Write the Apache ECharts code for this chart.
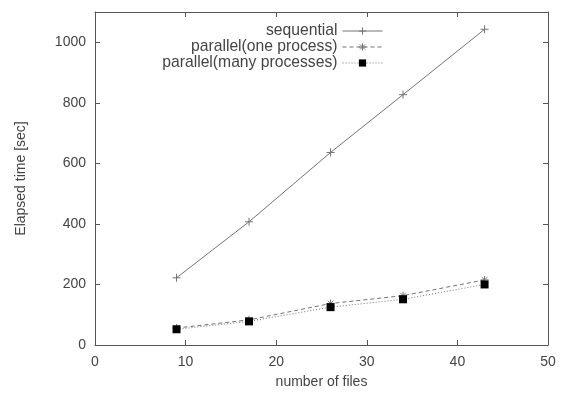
<!DOCTYPE html>
<html lang="en">
<head>
    <meta charset="UTF-8">
    <title>Elapsed time</title>
    <script src="https://cdn.jsdelivr.net/npm/echarts@6/dist/echarts.min.js"></script>
    <style>
        html, body { margin: 0; padding: 0; background: #fff; }
    </style>
</head>
<body>
    <div id="pic1" style="width:562px;height:394px;"></div>
    <script>
        // data
        var files = [9, 17, 26, 34, 43];
        var sequential = [222, 407, 636, 827, 1043];
        var parallelOne = [56, 83, 137, 163, 215];
        var parallelMany = [52, 78, 125, 151, 200];

        function pairs(ys) {
            var out = [];
            for (var i = 0; i < files.length; i++) {
                out.push([files[i], ys[i]]);
            }
            return out;
        }

        var plus = 'path://M5,0L5,10M0,5L10,5';
        var star = 'path://M5,0L5,10M0,5L10,5M1.5,1.5L8.5,8.5M8.5,1.5L1.5,8.5';
        var font = 'Liberation Sans, Helvetica, Arial, sans-serif';
        var lineCol = '#737373';
        var boxCol = '#555';
        var textCol = '#444';
        var hollow = { color: 'transparent', borderColor: lineCol, borderWidth: 1 };

        // shared style of the four box sides
        function side(extra) {
            var a = {
                type: 'value',
                axisLine: { show: true, onZero: false, lineStyle: { color: boxCol, width: 1 } },
                axisTick: { show: true, inside: true, length: 5, lineStyle: { color: boxCol } },
                splitLine: { show: false }
            };
            for (var k in extra) a[k] = extra[k];
            return a;
        }

        var myChart = echarts.init(document.getElementById("pic1"));

        var option = {
            backgroundColor: '#fff',
            animation: false,
            textStyle: { fontFamily: font },
            grid: { left: 95, right: 14, top: 12, bottom: 47 },
            legend: {
                orient: 'vertical',
                right: 174,
                top: 18,
                align: 'right',
                itemWidth: 40,
                itemHeight: 9,
                itemGap: 0,
                lineStyle: { width: 1 },
                textStyle: { color: textCol, fontSize: 15.7, fontFamily: font },
                data: [
                    { name: 'sequential', itemStyle: hollow },
                    { name: 'parallel(one process)', itemStyle: hollow },
                    { name: 'parallel(many processes)' }
                ]
            },
            xAxis: [side({
                min: 0, max: 50, interval: 10,
                name: 'number of files',
                nameLocation: 'middle',
                nameGap: 30,
                nameTextStyle: { color: textCol, fontSize: 14, fontFamily: font },
                axisLabel: { color: textCol, fontSize: 14, margin: 10 }
            }), side({
                position: 'top',
                min: 0, max: 50, interval: 10,
                axisLabel: { show: false }
            })],
            yAxis: [side({
                min: 0, max: 1100, interval: 200,
                name: 'Elapsed time [sec]',
                nameLocation: 'middle',
                nameGap: 67,
                nameTextStyle: { color: textCol, fontSize: 14, fontFamily: font },
                axisLabel: {
                    color: textCol, fontSize: 14, margin: 9, showMaxLabel: false,
                    formatter: function (v) { return String(v); }
                }
            }), side({
                position: 'right',
                min: 0, max: 1100, interval: 200,
                axisLabel: { show: false }
            })],
            series: [
                {
                    name: 'sequential',
                    type: 'line',
                    symbol: plus,
                    symbolSize: 8,
                    color: lineCol,
                    itemStyle: hollow,
                    lineStyle: { color: lineCol, width: 1, type: 'solid' },
                    data: pairs(sequential)
                },
                {
                    name: 'parallel(one process)',
                    type: 'line',
                    symbol: star,
                    symbolSize: 8,
                    color: lineCol,
                    itemStyle: hollow,
                    lineStyle: { color: lineCol, width: 1, type: [4, 3] },
                    data: pairs(parallelOne)
                },
                {
                    name: 'parallel(many processes)',
                    type: 'line',
                    symbol: 'rect',
                    symbolSize: 8,
                    color: '#000',
                    itemStyle: { color: '#000' },
                    lineStyle: { color: lineCol, width: 1, type: [1, 2] },
                    data: pairs(parallelMany)
                }
            ]
        };

        myChart.setOption(option);
    </script>
</body>
</html>
